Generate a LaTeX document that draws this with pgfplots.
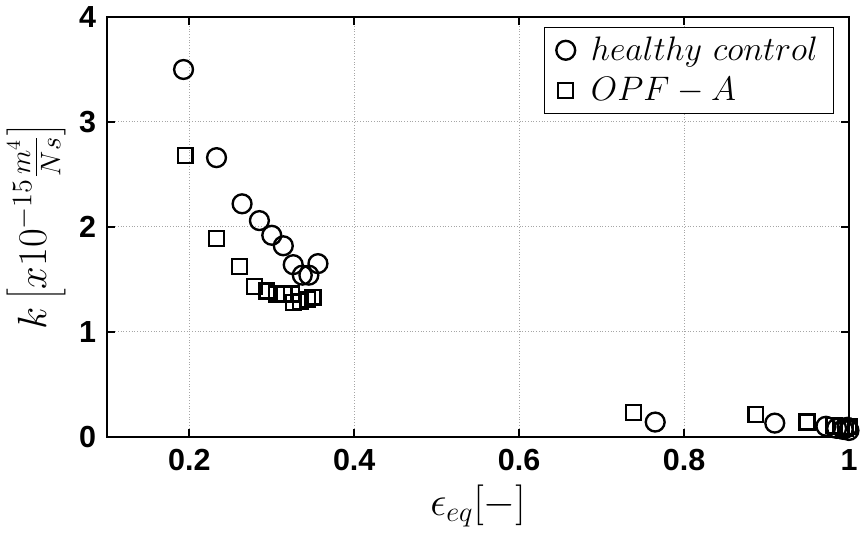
\documentclass[border=0pt]{standalone}
\usepackage{fontspec}
\usepackage{pgfplots}
\pgfplotsset{compat=1.18}
\newfontfamily\tickfont{Liberation Sans}

\begin{document}
\begin{tikzpicture}
\begin{axis}[
  scale only axis,
  width=377.5pt, height=213.5pt,
  xmin=0.1, xmax=1, ymin=0, ymax=4,
  xtick={0.2,0.4,0.6,0.8,1}, xticklabels={0.2,0.4,0.6,0.8,1},
  ytick={0,1,2,3,4},
  tick align=inside, major tick length=4pt,
  axis line style={line width=1.1pt},
  tick style={line width=0.9pt, black},
  grid=major, grid style={densely dotted, gray!70, line width=0.5pt},
  /pgf/number format/assume math mode=true,
  ticklabel style={font=\tickfont\bfseries\fontsize{15.5}{18}\selectfont},
  xticklabel style={yshift=-3pt},
  yticklabel style={xshift=-2pt},
  xlabel={$\epsilon_{eq}[-]$},
  ylabel={$k\left[x10^{-15}\frac{m^4}{Ns}\right]$},
  label style={font=\fontsize{20}{24}\selectfont},
  xlabel style={yshift=0pt},
  ylabel style={yshift=0pt},
  legend style={at={(0.98,0.977)}, anchor=north east, draw=black, line width=0.5pt,
    font=\fontsize{18.5}{22}\selectfont, row sep=3pt, inner xsep=6pt, inner ysep=3pt,
    /tikz/every odd column/.append style={column sep=6pt}},
  legend cell align=left,
]
\addplot[only marks, mark=o, mark size=4.8pt, mark options={line width=1.2pt, black}] coordinates {
  (0.193,3.50) (0.233,2.66) (0.264,2.22) (0.285,2.06) (0.300,1.92)
  (0.314,1.82) (0.326,1.64) (0.337,1.54) (0.345,1.54) (0.356,1.65)
  (0.765,0.14) (0.910,0.13) (0.972,0.10) (0.985,0.08) (0.993,0.07)
  (0.998,0.09) (1.000,0.06)
};
\addplot[only marks, mark=square, mark size=3.8pt, mark options={line width=1.2pt, black}] coordinates {
  (0.195,2.68) (0.233,1.89) (0.261,1.62) (0.279,1.43) (0.294,1.39)
  (0.306,1.36) (0.315,1.36) (0.324,1.36) (0.326,1.28) (0.335,1.29)
  (0.343,1.31) (0.350,1.33)
  (0.739,0.23) (0.887,0.21) (0.949,0.14) (0.982,0.11) (0.990,0.10)
  (0.996,0.08) (1.000,0.10)
};
\legend{$healthy\ control$, $OPF-A$}
\end{axis}
\end{tikzpicture}
\end{document}
